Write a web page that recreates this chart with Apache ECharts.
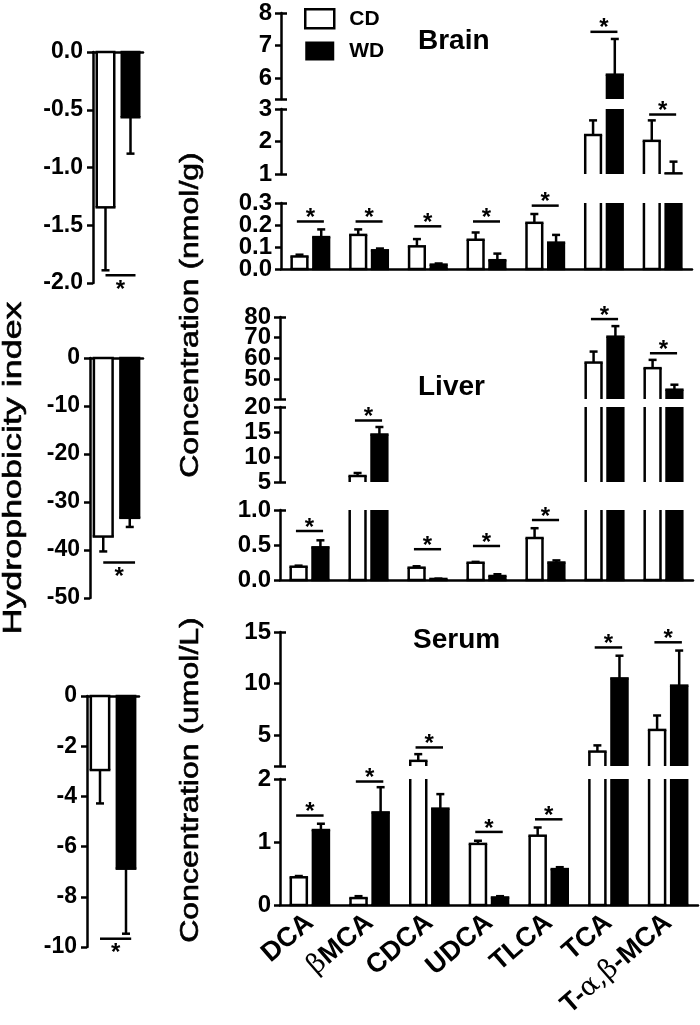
<!DOCTYPE html>
<html><head><meta charset="utf-8">
<script src="https://cdn.jsdelivr.net/npm/echarts@6/dist/echarts.min.js"></script>
<style>html,body{margin:0;padding:0;background:#fff}#c{width:700px;height:1025px}</style>
</head><body><div id="c"></div>
<script>
// ---------- data ----------
const categories = ['DCA', 'βMCA', 'CDCA', 'UDCA', 'TLCA', 'TCA', 'T-α,β-MCA'];
const groups = ['CD', 'WD'];

// Brain (nmol/g)
const brainCD    = [0.057, 0.155, 0.103, 0.133, 0.21, 2.2, 2.02];
const brainCDErr = [0.008, 0.025, 0.033, 0.033, 0.04, 0.45, 0.63];
const brainWD    = [0.145, 0.085, 0.02, 0.04, 0.12, 6.1, 1.02];
const brainWDErr = [0.035, 0.008, 0.005, 0.03, 0.035, 1.1, 0.36];
const brainSig   = [0.216, 0.216, 0.194, 0.216, 0.288, 7.42, 2.83];
const brainTicksUpper  = [6, 7, 8];
const brainTicksMiddle = [1, 2, 3];
const brainTicksLower  = [0, 0.1, 0.2, 0.3];

// Liver (nmol/g)
const liverCD    = [0.19, 6.2, 0.176, 0.247, 0.6, 58, 55.3];
const liverCDErr = [0.015, 0.6, 0.02, 0.012, 0.14, 5.3, 4];
const liverWD    = [0.467, 14.5, 0.015, 0.057, 0.25, 70.5, 44.9];
const liverWDErr = [0.1, 1.5, 0.005, 0.025, 0.03, 5.1, 2.4];
const liverSig   = [0.7, 17.3, 0.44, 0.486, 0.857, 79, 62.5];
const liverTicksUpper  = [50, 60, 70, 80];
const liverTicksMiddle = [5, 10, 15, 20];
const liverTicksLower  = [0, 0.5, 1.0];

// Serum (umol/L)
const serumCD    = [0.44, 0.11, 2.5, 0.97, 1.1, 3.4, 5.5];
const serumCDErr = [0.02, 0.03, 0.65, 0.05, 0.13, 0.6, 1.4];
const serumWD    = [1.19, 1.47, 1.53, 0.12, 0.57, 10.5, 9.8];
const serumWDErr = [0.1, 0.4, 0.23, 0.02, 0.03, 2.2, 3.4];
const serumSig   = [1.42, 1.96, 3.8, 1.16, 1.36, 13.5, 14.0];
const serumTicksUpper = [5, 10, 15];
const serumTicksLower = [0, 1, 2];

// Hydrophobicity index (brain, liver, serum)
const hiCD    = [-1.345, -37.2, -2.95];
const hiCDErr = [0.545, 3.1, 1.33];
const hiWD    = [-0.565, -33.3, -6.88];
const hiWDErr = [0.315, 1.9, 2.59];
const hiSig   = [-1.933, -42.6, -9.67];

// ---------- layout / helpers ----------
const FONT = 'Liberation Sans';
const LW = 2.5;
const grids = [], xAxes = [], yAxes = [], series = [];

function ln(x1, y1, x2, y2) {
  return { type: 'line', shape: { x1, y1, x2, y2 }, style: { stroke: '#000', lineWidth: LW, lineCap: 'butt' } };
}

function barRenderer(seg, off, widthFrac, capPx, fill) {
  return function (params, api) {
    const cat = api.value(0), v = api.value(1), e = api.value(2);
    const band = api.size([1, 0])[0];
    const cx = api.coord([cat, seg.min])[0] + off * band;
    const w = widthFrac * band;
    const clamp = t => Math.max(seg.min, Math.min(seg.max, t));
    const children = [];
    const a = 0, b = v;
    const ca = clamp(a), cb = clamp(b);
    if (ca !== cb) {
      const ya = api.coord([cat, ca])[1], yb = api.coord([cat, cb])[1];
      const x0 = cx - w / 2 + LW / 2, x1 = cx + w / 2 - LW / 2;
      children.push({ type: 'rect', shape: { x: x0, y: Math.min(ya, yb), width: x1 - x0, height: Math.abs(ya - yb) }, style: { fill: fill } });
      children.push(ln(x0, ya, x0, yb), ln(x1, ya, x1, yb));
      if (cb === b) children.push(ln(x0 - LW / 2, yb, x1 + LW / 2, yb));
      if (ca === a) children.push(ln(x0 - LW / 2, ya, x1 + LW / 2, ya));
    }
    const end = v + (v >= 0 ? e : -e);
    const ea = clamp(v), eb = clamp(end);
    if (ea !== eb) {
      const ya = api.coord([cat, ea])[1], yb = api.coord([cat, eb])[1];
      children.push(ln(cx, ya, cx, yb));
      if (eb === end) children.push(ln(cx - capPx / 2, yb, cx + capPx / 2, yb));
    }
    return { type: 'group', children };
  };
}

function sigRenderer(halfFrac) {
  return function (params, api) {
    const cat = api.value(0), y = api.value(1);
    const band = api.size([1, 0])[0];
    const p = api.coord([cat, y]);
    const hw = halfFrac * band;
    return { type: 'group', children: [
      ln(p[0] - hw, p[1], p[0] + hw, p[1]),
      { type: 'text', x: p[0], y: p[1] - 3, style: { text: '*', fontSize: 24, fontWeight: 'bold', fontFamily: FONT, fill: '#000', align: 'center', verticalAlign: 'middle' } }
    ] };
  };
}

function leftSigRenderer(params, api) {
  const y = api.value(1);
  const band = api.size([1, 0])[0];
  const p = api.coord([0, y]);
  return { type: 'group', children: [
    ln(p[0], p[1], p[0] + 1.2 * band, p[1]),
    { type: 'text', x: p[0] + 0.6 * band, y: p[1] + 15, style: { text: '*', fontSize: 24, fontWeight: 'bold', fontFamily: FONT, fill: '#000', align: 'center', verticalAlign: 'middle' } }
  ] };
}

const labelRich = { g: { fontFamily: 'DejaVu Serif', fontSize: 27, fontWeight: 'normal', color: '#000' } };
function catFormatter(v) {
  if (v === 'βMCA') return '{g|β}MCA';
  if (v === 'T-α,β-MCA') return 'T-{g|α,β}-MCA';
  return v;
}

function yLabelStyle(values, fmt) {
  return { customValues: values, formatter: fmt, showMinLabel: true, showMaxLabel: true, hideOverlap: false,
    fontSize: 24, fontWeight: 'bold', fontFamily: FONT, color: '#000', margin: 9 };
}

function addPanel(panel) {
  panel.segs.forEach((seg, si) => {
    const bottom = si === panel.segs.length - 1;
    const gi = grids.length;
    grids.push({ left: panel.left, width: panel.width, top: seg.top, height: seg.height, containLabel: false });
    xAxes.push({
      gridIndex: gi, type: 'category', data: categories, show: bottom,
      axisLine: { lineStyle: { color: '#000', width: LW } },
      axisTick: { alignWithLabel: true, length: 6, lineStyle: { color: '#000', width: LW } },
      axisLabel: { show: bottom && panel.catLabels, rotate: 41, fontSize: 27, fontWeight: 'bold', fontFamily: FONT, color: '#000', margin: 14, interval: 0, formatter: catFormatter, rich: labelRich }
    });
    const ticks = Array.from(new Set([seg.min].concat(seg.labels)));
    const fmt = v => seg.dec ? Number(v).toFixed(seg.dec) : String(v);
    const evenLabels = seg.labels.filter((v, i) => i % 2 === 0);
    const oddLabels = seg.labels.filter((v, i) => i % 2 === 1);
    const yi = yAxes.length;
    yAxes.push({
      gridIndex: gi, type: 'value', min: seg.min, max: seg.max,
      axisLine: { show: true, lineStyle: { color: '#000', width: LW } },
      axisTick: { show: true, length: 6, lineStyle: { color: '#000', width: LW }, customValues: ticks },
      axisLabel: yLabelStyle(evenLabels, fmt),
      splitLine: { show: false }
    });
    yAxes.push({
      gridIndex: gi, type: 'value', min: seg.min, max: seg.max, position: 'left',
      axisLine: { show: false },
      axisTick: { show: true, inside: true, length: 6, lineStyle: { color: '#000', width: LW }, customValues: bottom ? [seg.max] : [seg.min, seg.max] },
      axisLabel: Object.assign(yLabelStyle(oddLabels, fmt), { show: oddLabels.length > 0 }),
      splitLine: { show: false }
    });
    const mk = (arr, err) => arr.map((v, i) => [i, v, err[i]]);
    series.push({ type: 'custom', name: 'CD', xAxisIndex: gi, yAxisIndex: yi, data: mk(panel.cd, panel.cdErr),
      renderItem: barRenderer(seg, -0.185, 0.31, 8, '#fff'), itemStyle: { color: '#fff', borderColor: '#000' }, z: 3 });
    series.push({ type: 'custom', name: 'WD', xAxisIndex: gi, yAxisIndex: yi, data: mk(panel.wd, panel.wdErr),
      renderItem: barRenderer(seg, 0.185, 0.31, 8, '#000'), itemStyle: { color: '#000' }, z: 3 });
    const sigData = panel.sig.map((v, i) => [i, v]).filter(d => d[1] >= seg.min && d[1] <= seg.max);
    series.push({ type: 'custom', name: 'sig', xAxisIndex: gi, yAxisIndex: yi, data: sigData, renderItem: sigRenderer(0.23), z: 4 });
  });
}

addPanel({ left: 281, width: 411, cd: brainCD, cdErr: brainCDErr, wd: brainWD, wdErr: brainWDErr, sig: brainSig, catLabels: false, segs: [
  { top: 13, height: 86, min: 5.35, max: 8, labels: brainTicksUpper },
  { top: 109, height: 65, min: 1, max: 3, labels: brainTicksMiddle },
  { top: 203, height: 66, min: 0, max: 0.3, labels: brainTicksLower, dec: 1 }
] });
addPanel({ left: 280, width: 413, cd: liverCD, cdErr: liverCDErr, wd: liverWD, wdErr: liverWDErr, sig: liverSig, catLabels: false, segs: [
  { top: 317, height: 82, min: 40.4, max: 80, labels: liverTicksUpper },
  { top: 407, height: 75, min: 5, max: 20, labels: liverTicksMiddle },
  { top: 510, height: 70, min: 0, max: 1, labels: liverTicksLower, dec: 1 }
] });
addPanel({ left: 280, width: 418, cd: serumCD, cdErr: serumCDErr, wd: serumWD, wdErr: serumWDErr, sig: serumSig, catLabels: true, segs: [
  { top: 632, height: 134, min: 2, max: 15, labels: serumTicksUpper },
  { top: 779, height: 126, min: 0, max: 2, labels: serumTicksLower }
] });

// left hydrophobicity panels
const hiPanels = [
  { left: 93, top: 52, width: 50, height: 231, min: -2, interval: 0.5, dec: 1 },
  { left: 90, top: 358, width: 53, height: 240, min: -50, interval: 10 },
  { left: 87, top: 696, width: 52, height: 251, min: -10, interval: 2 }
];
hiPanels.forEach((p, k) => {
  const gi = grids.length;
  grids.push({ left: p.left, top: p.top, width: p.width, height: p.height });
  xAxes.push({ gridIndex: gi, type: 'category', data: groups, position: 'top',
    axisLine: { lineStyle: { color: '#000', width: LW } }, axisTick: { show: false }, axisLabel: { show: false } });
  const yi = yAxes.length;
  yAxes.push({ gridIndex: gi, type: 'value', min: p.min, max: 0, interval: p.interval,
    axisLine: { show: true, lineStyle: { color: '#000', width: LW } },
    axisTick: { show: true, length: 6, lineStyle: { color: '#000', width: LW } },
    axisLabel: { formatter: v => p.dec ? Number(v).toFixed(p.dec) : String(v), showMinLabel: true, showMaxLabel: true,
      fontSize: 23, fontWeight: 'bold', fontFamily: FONT, color: '#000', margin: 10 },
    splitLine: { show: false } });
  const seg = { min: p.min, max: 0 };
  series.push({ type: 'custom', name: 'CD', xAxisIndex: gi, yAxisIndex: yi, data: [[0, hiCD[k], hiCDErr[k]]],
    renderItem: barRenderer(seg, 0, 0.8, 8, '#fff'), itemStyle: { color: '#fff', borderColor: '#000' }, z: 3 });
  series.push({ type: 'custom', name: 'WD', xAxisIndex: gi, yAxisIndex: yi, data: [[1, hiWD[k], hiWDErr[k]]],
    renderItem: barRenderer(seg, 0, 0.8, 8, '#000'), itemStyle: { color: '#000' }, z: 3 });
  series.push({ type: 'custom', name: 'sig', xAxisIndex: gi, yAxisIndex: yi, data: [[0, hiSig[k]]], renderItem: leftSigRenderer, z: 4 });
});

const titleStyle = { fontSize: 28, fontWeight: 'bold', fontFamily: FONT, color: '#000' };
const option = {
  animation: false,
  backgroundColor: '#fff',
  title: [
    { text: 'Brain', left: 418, top: 27, padding: 0, textStyle: titleStyle },
    { text: 'Liver', left: 418, top: 373, padding: 0, textStyle: titleStyle },
    { text: 'Serum', left: 413, top: 626, padding: 0, textStyle: titleStyle }
  ],
  legend: {
    data: [
      { name: 'CD', itemStyle: { color: '#fff', borderColor: '#000', borderWidth: 2.5 } },
      { name: 'WD', itemStyle: { color: '#000', borderColor: '#000', borderWidth: 0 } }
    ],
    icon: 'rect', orient: 'vertical', left: 304, top: 8, padding: 0,
    itemWidth: 29, itemHeight: 19, itemGap: 11, selectedMode: false,
    textStyle: { fontSize: 21, fontWeight: 'bold', fontFamily: FONT, color: '#000', padding: [0, 0, 0, 10] }
  },
  grid: grids, xAxis: xAxes, yAxis: yAxes, series: series,
  graphic: [
    { type: 'text', x: 14, y: 468, rotation: Math.PI / 2, scaleX: 1.38, style: { text: 'Hydrophobicity index', fontSize: 26, fontFamily: FONT, fill: '#000', align: 'center', verticalAlign: 'middle', stroke: '#000', lineWidth: 0.6 } },
    { type: 'text', x: 191, y: 315, rotation: Math.PI / 2, scaleX: 1.28, style: { text: 'Concentration (nmol/g)', fontSize: 25, fontFamily: FONT, fill: '#000', align: 'center', verticalAlign: 'middle', stroke: '#000', lineWidth: 0.6 } },
    { type: 'text', x: 191, y: 780, rotation: Math.PI / 2, scaleX: 1.28, style: { text: 'Concentration (umol/L)', fontSize: 25, fontFamily: FONT, fill: '#000', align: 'center', verticalAlign: 'middle', stroke: '#000', lineWidth: 0.6 } }
  ]
};
const chart = echarts.init(document.getElementById('c'), null, { renderer: 'canvas' });
chart.setOption(option);
</script></body></html>
